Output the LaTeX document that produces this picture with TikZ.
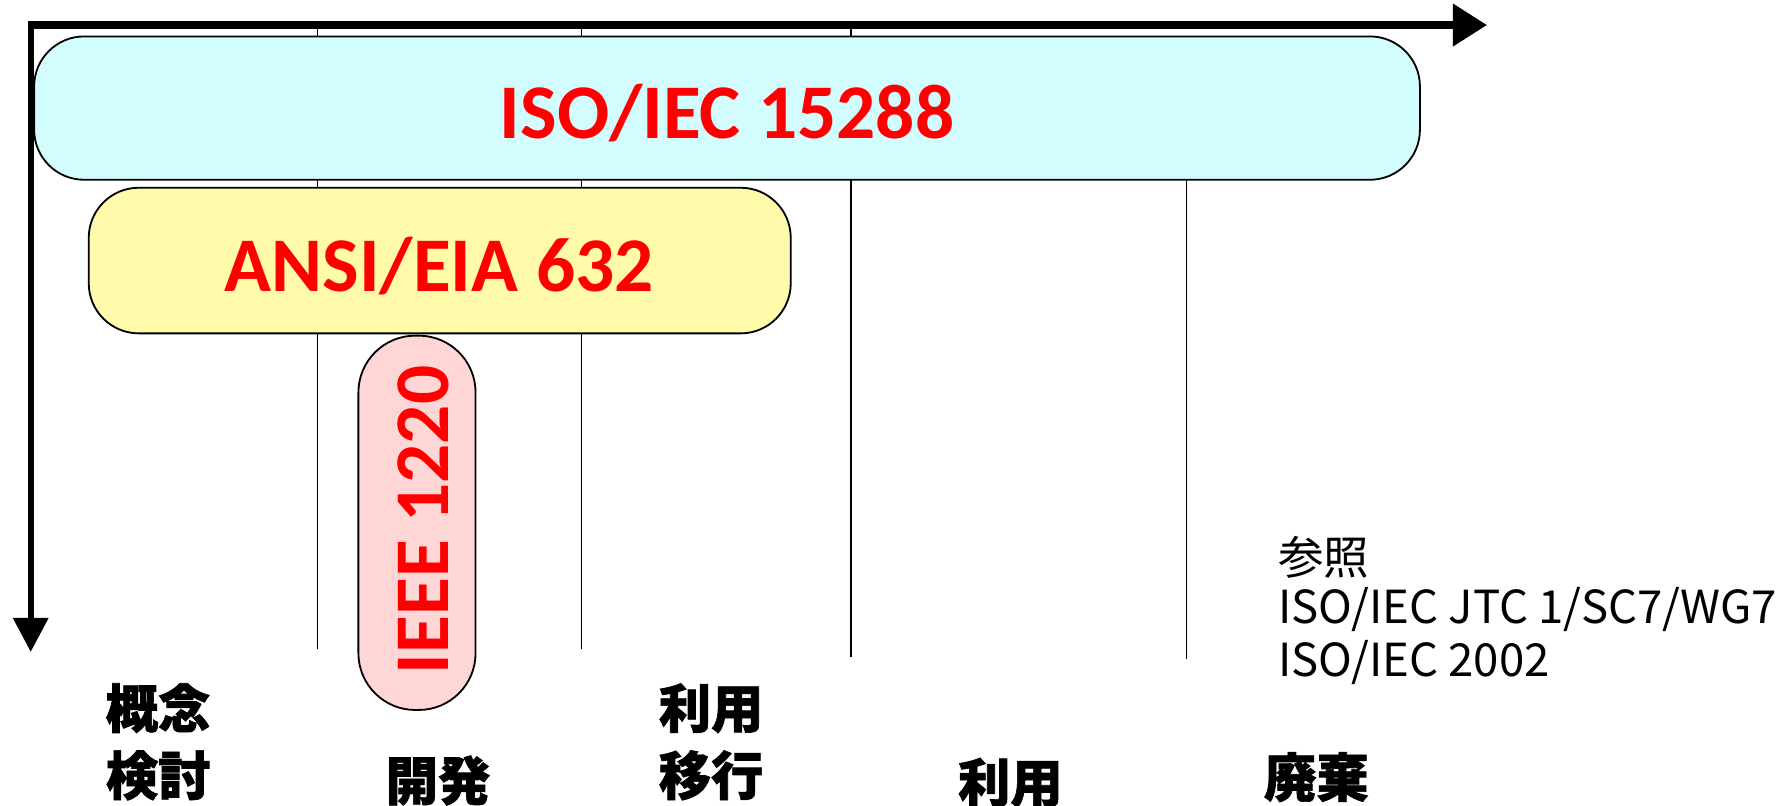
\documentclass[tikz,border=0pt]{standalone}
\usepackage{fontspec}
\setmainfont{Carlito}
\newfontfamily\jpfont{Noto Sans CJK JP}
\newfontfamily\jpheavyfam{Noto Sans CJK JP}[BoldFeatures={FakeBold=1.3}]
\newcommand\jpheavy{\jpheavyfam\bfseries}
\usetikzlibrary{arrows.meta}
\definecolor{isocyan}{RGB}{211,252,255}
\definecolor{eiayellow}{RGB}{255,251,170}
\definecolor{ieeepink}{RGB}{255,214,214}
\definecolor{stdred}{RGB}{255,0,0}
\tikzset{
  stdbox/.style={draw=black,line width=0.8pt,inner sep=0pt,outer sep=0pt},
  stdname/.style={text=stdred,font=\bfseries\fontsize{34}{40}\selectfont,inner sep=0pt,anchor=base},
  phase/.style={font=\jpheavy\fontsize{23}{29.5}\selectfont,align=center,inner sep=0pt},
  refline/.style={font=\jpfont\fontsize{20}{23}\selectfont,inner sep=0pt,anchor=base west},
  phase line/.style={black,line width=0.55pt}
}
\begin{document}
\begin{tikzpicture}[x=0.5pt,y=-0.5pt]
  \useasboundingbox (0,0) rectangle (1568,708);
  % phase boundaries
  \draw [phase line] (279,22) -- (279,570);
  \draw [phase line] (511,22) -- (511,570);
  \draw [phase line] (748,22) -- (748,577);
  \draw [phase line] (1043,158) -- (1043,579);
  % axes
  \coordinate (o) at (27,22);
  \coordinate (tend) at (1307,22);
  \coordinate (lend) at (27,573);
  \draw [line width=3.2pt,-{Triangle[length=15pt,width=18pt]}] ([xshift=-1.4pt]o) -- (tend);
  \draw [line width=2.8pt,-{Triangle[length=15pt,width=15pt]}] ([yshift=1.6pt]o) -- (lend);
  % standards
  \node [stdbox,fill=isocyan,rounded corners=22pt,minimum width=609pt,minimum height=63pt] (iso) at (639,95) {};
  \node [stdbox,fill=eiayellow,rounded corners=22pt,minimum width=308.5pt,minimum height=64pt] (eia) at (386.5,229) {};
  \node [stdbox,fill=ieeepink,rounded corners=25pt,minimum width=51.5pt,minimum height=164.5pt] (ieee) at (366.5,459.5) {};
  \node [stdname] (isoname) at (639,122) {ISO/IEC 15288};
  \node [stdname] (eianame) at (386,256.5) {ANSI/EIA 632};
  \node [stdname,rotate=90] (ieeename) at (394,457) {IEEE 1220};
  % life cycle stages
  \node [phase] (concept) at (139,652) {概念\\検討};
  \node [phase] (develop) at (385,686) {開発};
  \node [phase] (transition) at (625,652) {利用\\移行};
  \node [phase] (operate) at (888,688) {利用};
  \node [phase] (dispose) at (1157,683) {廃棄};
  % source
  \node [refline] (ref1) at (1123,505) {参照};
  \node [refline] (ref2) at (1123,548) {ISO/IEC JTC 1/SC7/WG7};
  \node [refline] (ref3) at (1123,595) {ISO/IEC 2002};
\end{tikzpicture}
\end{document}
